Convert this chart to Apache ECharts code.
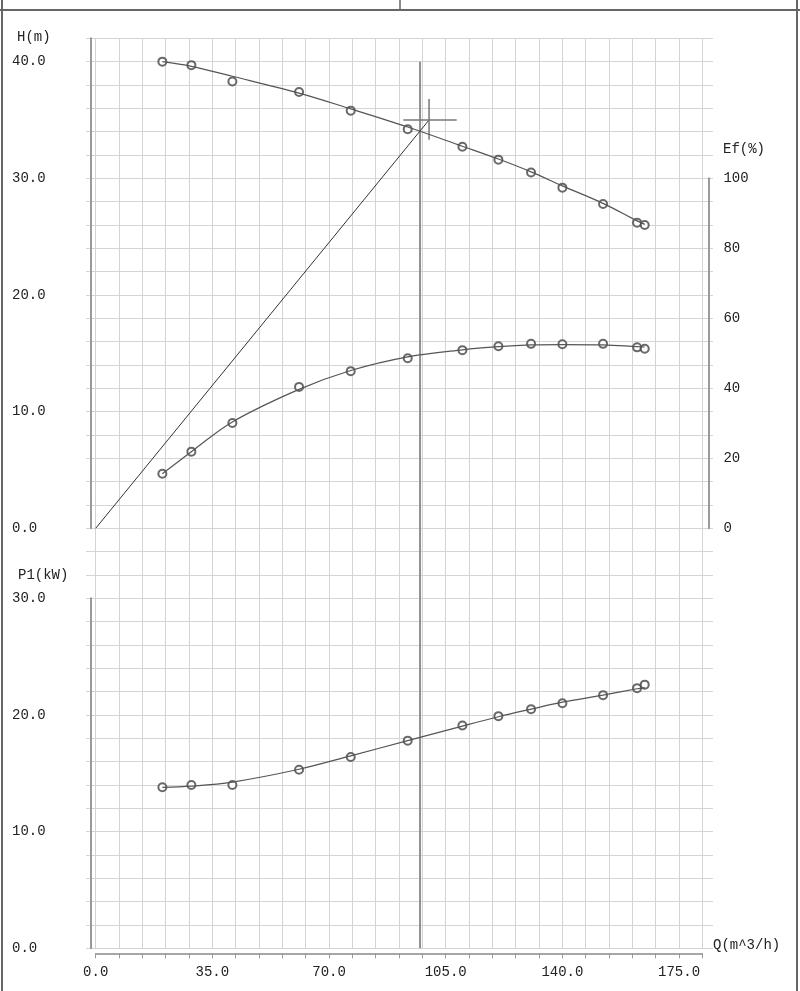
<!DOCTYPE html>
<html>
<head>
<meta charset="utf-8">
<script src="https://cdn.jsdelivr.net/npm/echarts@6/dist/echarts.min.js"></script>
<style>
  html, body { margin: 0; padding: 0; background: #fff; }
  #chart { width: 800px; height: 991px; }
</style>
</head>
<body>
<div id="chart"></div>
<script>
// ---- data ----
const qPts = [20, 28.7, 41, 61, 76.5, 93.6, 110, 120.8, 130.6, 140, 152.2, 162.4, 164.7];
const hPts = [40.0, 39.7, 38.3, 37.4, 35.8, 34.2, 32.7, 31.6, 30.5, 29.2, 27.8, 26.2, 26.0];
const hCurve = [40.0, 39.6, 38.75, 37.3, 35.95, 34.4, 32.75, 31.65, 30.55, 29.35, 27.85, 26.35, 26.05];
const efPts = [15.6, 21.9, 30.1, 40.4, 44.9, 48.6, 50.9, 52.0, 52.7, 52.6, 52.7, 51.7, 51.3];
const efCurve = [15.6, 21.9, 30.4, 39.7, 45.1, 49.0, 51.0, 51.9, 52.4, 52.5, 52.4, 51.9, 51.8];
const pPts = [13.8, 14.0, 14.0, 15.3, 16.4, 17.8, 19.1, 19.9, 20.5, 21.0, 21.7, 22.3, 22.6];
const pCurve = [13.8, 13.9, 14.25, 15.35, 16.5, 17.8, 19.05, 19.85, 20.5, 21.1, 21.7, 22.25, 22.35];
const designPoint = [100, 35];     // Q, H
const dutyQ = 97.3;                // operating point flow
const crossQ = [92.3, 108.3];      // crosshair horizontal extent (Q)
const crossH = [33.3, 36.8];       // crosshair vertical extent (H)
const xTickLabels = [0, 35, 70, 105, 140, 175];
const hTickLabels = [0, 10, 20, 30, 40];
const efTickLabels = [0, 20, 40, 60, 80, 100];
const pTickLabels = [0, 10, 20, 30];

const FONT = 'Liberation Mono';
const TXT = '#222';
const pairs = (xs, ys) => xs.map((x, i) => [x, ys[i]]);

const X0 = 95.7, XW = 606.7;
const chart = echarts.init(document.getElementById('chart'), null, { renderer: 'canvas' });

const hiddenX = (gi) => ({ type: 'value', gridIndex: gi, min: 0, max: 182, show: false });

const option = {
  animation: false,
  backgroundColor: '#fff',
  grid: [
    { left: 86, width: 627, top: 38.3, height: 910 },          // 0 horizontal cells
    { left: X0, width: XW, top: 38.3, height: 910 },            // 1 vertical cells
    { left: X0, width: XW, top: 38.3, height: 490 },            // 2 H panel
    { left: X0, width: XW, top: 178.3, height: 350 },           // 3 Ef
    { left: X0, width: XW, top: 598.3, height: 350 }            // 4 P1 panel
  ],
  xAxis: [
    { type: 'value', gridIndex: 0, min: 0, max: 1, show: false },
    { type: 'value', gridIndex: 1, min: 0, max: 182, interval: 7,
      axisLine: { show: false }, axisTick: { show: false }, axisLabel: { show: false },
      splitLine: { show: true, lineStyle: { color: '#d4d4d4', width: 1 } } },
    hiddenX(2),
    hiddenX(3),
    { type: 'value', gridIndex: 4, min: 0, max: 182, interval: 7, offset: 5,
      axisLine: { show: true, onZero: false, lineStyle: { color: '#8a8a8a', width: 1.5 } },
      axisTick: { show: true, length: 5, lineStyle: { color: '#9a9a9a' } },
      splitLine: { show: false },
      axisLabel: { margin: 12, color: TXT, fontFamily: FONT, fontSize: 14,
        formatter: v => xTickLabels.includes(v) ? v.toFixed(1) : '' } }
  ],
  yAxis: [
    { type: 'value', gridIndex: 0, min: 0, max: 39, interval: 1,
      axisLine: { show: false }, axisTick: { show: false }, axisLabel: { show: false },
      splitLine: { show: true, lineStyle: { color: '#d4d4d4', width: 1 } } },
    { type: 'value', gridIndex: 1, min: 0, max: 39, show: false },
    { type: 'value', gridIndex: 2, min: 0, max: 42, interval: 2, offset: 4.7,
      axisLine: { show: true, onZero: false, lineStyle: { color: '#9a9a9a', width: 2 } },
      axisTick: { show: false }, splitLine: { show: false },
      axisLabel: { align: 'left', margin: 79, color: TXT, fontFamily: FONT, fontSize: 14,
        formatter: v => hTickLabels.includes(v) ? v.toFixed(1) : '' } },
    { type: 'value', gridIndex: 3, position: 'right', min: 0, max: 100, interval: 20, offset: 6,
      axisLine: { show: true, onZero: false, lineStyle: { color: '#9a9a9a', width: 2 } },
      axisTick: { show: false }, splitLine: { show: false },
      axisLabel: { margin: 15, color: TXT, fontFamily: FONT, fontSize: 14,
        formatter: v => efTickLabels.includes(v) ? String(v) : '' } },
    { type: 'value', gridIndex: 4, min: 0, max: 30, interval: 10, offset: 4.7,
      axisLine: { show: true, onZero: false, lineStyle: { color: '#9a9a9a', width: 2 } },
      axisTick: { show: false }, splitLine: { show: false },
      axisLabel: { align: 'left', margin: 79, color: TXT, fontFamily: FONT, fontSize: 14,
        formatter: v => pTickLabels.includes(v) ? v.toFixed(1) : '' } }
  ],
  series: [
    // operating vertical line (grid cell units: 38 rows = H 40)
    { type: 'line', xAxisIndex: 1, yAxisIndex: 1, symbol: 'none',
      lineStyle: { color: '#8f8f8f', width: 2 },
      data: [[dutyQ, 0], [dutyQ, 38]] },
    // system line through origin and design point
    { type: 'line', xAxisIndex: 2, yAxisIndex: 2, symbol: 'none',
      lineStyle: { color: '#333', width: 1 },
      data: [[0, 0], designPoint] },
    // crosshair
    { type: 'line', xAxisIndex: 2, yAxisIndex: 2, symbol: 'none',
      lineStyle: { color: '#777', width: 1.5 },
      data: [[crossQ[0], designPoint[1]], [crossQ[1], designPoint[1]]] },
    { type: 'line', xAxisIndex: 2, yAxisIndex: 2, symbol: 'none',
      lineStyle: { color: '#777', width: 1.5 },
      data: [[designPoint[0], crossH[0]], [designPoint[0], crossH[1]]] },
    // H
    { type: 'line', xAxisIndex: 2, yAxisIndex: 2, symbol: 'none', smooth: 0.35,
      lineStyle: { color: '#555', width: 1.2 }, data: pairs(qPts, hCurve) },
    { type: 'scatter', xAxisIndex: 2, yAxisIndex: 2, symbol: 'emptyCircle', symbolSize: 8,
      itemStyle: { color: '#444', borderWidth: 1 }, data: pairs(qPts, hPts) },
    // Ef
    { type: 'line', xAxisIndex: 3, yAxisIndex: 3, symbol: 'none', smooth: 0.35,
      lineStyle: { color: '#555', width: 1.2 }, data: pairs(qPts, efCurve) },
    { type: 'scatter', xAxisIndex: 3, yAxisIndex: 3, symbol: 'emptyCircle', symbolSize: 8,
      itemStyle: { color: '#444', borderWidth: 1 }, data: pairs(qPts, efPts) },
    // P1
    { type: 'line', xAxisIndex: 4, yAxisIndex: 4, symbol: 'none', smooth: 0.35,
      lineStyle: { color: '#555', width: 1.2 }, data: pairs(qPts, pCurve) },
    { type: 'scatter', xAxisIndex: 4, yAxisIndex: 4, symbol: 'emptyCircle', symbolSize: 8,
      itemStyle: { color: '#444', borderWidth: 1 }, data: pairs(qPts, pPts) }
  ],
  graphic: [
    { type: 'line', shape: { x1: 2, y1: 0, x2: 2, y2: 991 }, style: { stroke: '#666', lineWidth: 2 } },
    { type: 'line', shape: { x1: 797, y1: 0, x2: 797, y2: 991 }, style: { stroke: '#666', lineWidth: 2 } },
    { type: 'line', shape: { x1: 0, y1: 10, x2: 800, y2: 10 }, style: { stroke: '#666', lineWidth: 2 } },
    { type: 'line', shape: { x1: 400, y1: 0, x2: 400, y2: 10 }, style: { stroke: '#666', lineWidth: 1.5 } },
    { type: 'text', left: 17, top: 30, style: { text: 'H(m)', fill: TXT, font: '14px ' + FONT } },
    { type: 'text', left: 723, top: 142, style: { text: 'Ef(%)', fill: TXT, font: '14px ' + FONT } },
    { type: 'text', left: 18, top: 568, style: { text: 'P1(kW)', fill: TXT, font: '14px ' + FONT } },
    { type: 'text', left: 713, top: 938, style: { text: 'Q(m^3/h)', fill: TXT, font: '14px ' + FONT } }
  ]
};
chart.setOption(option);
</script>
</body>
</html>
